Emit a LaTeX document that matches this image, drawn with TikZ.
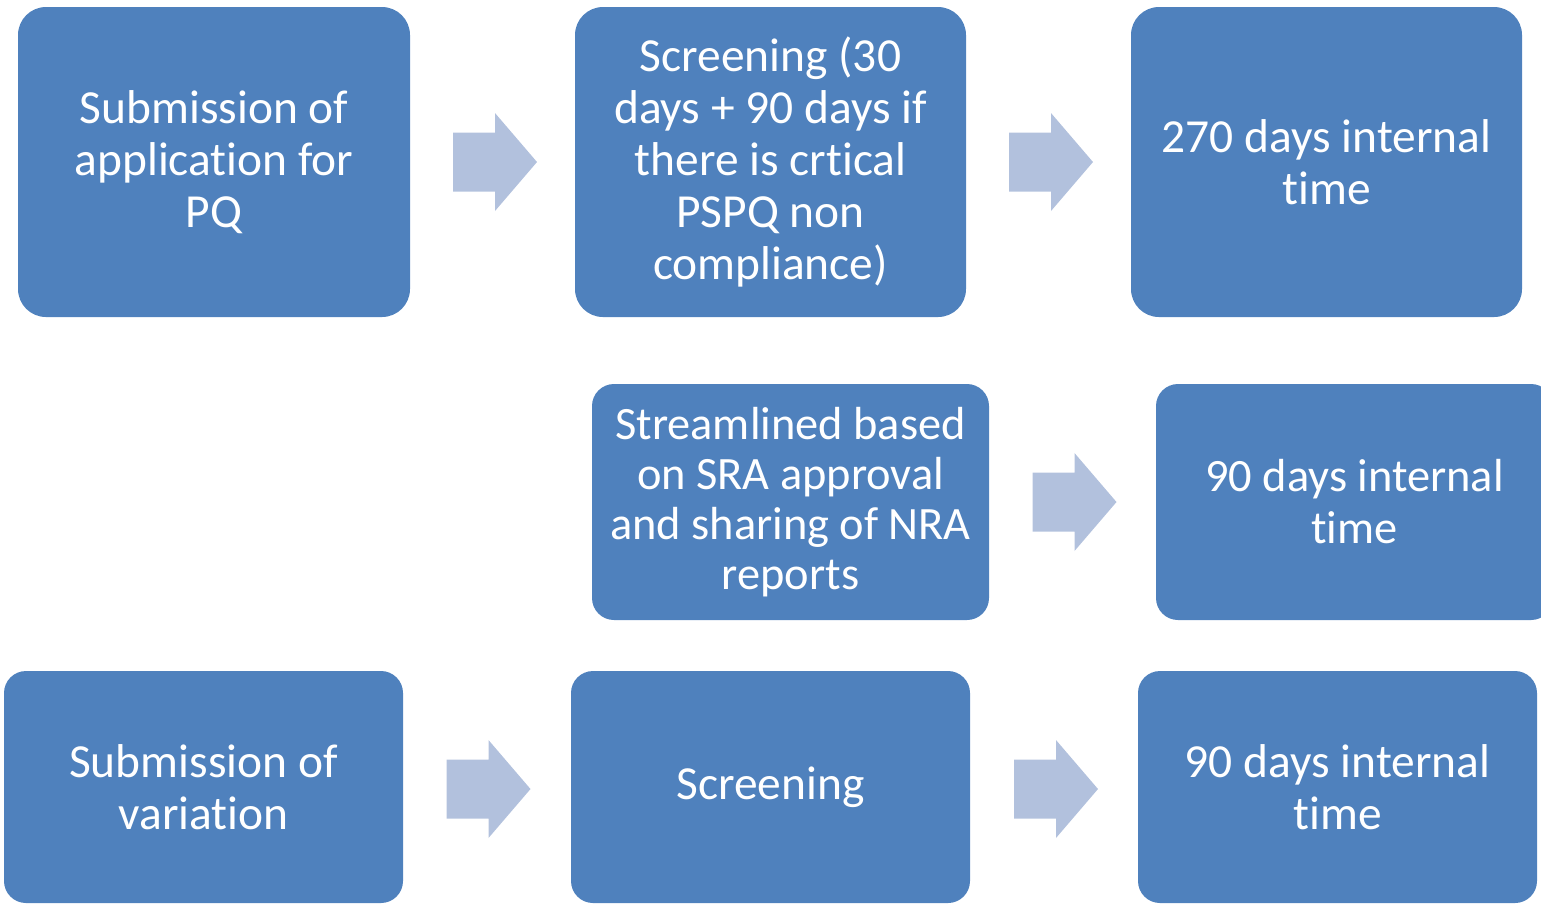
\documentclass[tikz,border=0pt]{standalone}
\usepackage{fontspec}
\setmainfont{Carlito}[Ligatures=NoCommon]
\usetikzlibrary{calc}
\definecolor{boxblue}{HTML}{4F81BD}
\definecolor{arrowblue}{HTML}{B2C1DD}
\tikzset{
  stage/.style={fill=boxblue, rounded corners=0.28cm, text=white, align=center,
    inner sep=0pt, font=\fontsize{13.5}{14.8}\selectfont},
  bigarrow/.pic={\fill[arrowblue] (-0.42,-0.295) -- (0,-0.295) -- (0,-0.49) -- (0.42,0)
    -- (0,0.49) -- (0,0.295) -- (-0.42,0.295) -- cycle;}
}
\begin{document}
\begin{tikzpicture}
\path[use as bounding box] (0,0) rectangle (15.41,-9.05);
\clip (0,0) rectangle (15.41,-9.05);

% first row
\node[stage, minimum width=3.92cm, minimum height=3.10cm] (sub) at (2.14,-1.62) {Submission of\\application for\\PQ};
\node[stage, minimum width=3.91cm, minimum height=3.10cm] (scr) at (7.705,-1.62) {Screening (30\\days + 90 days if\\there is crtical\\PSPQ non\\compliance)};
\node[stage, minimum width=3.91cm, minimum height=3.10cm] (int) at (13.265,-1.62) {270 days internal\\time};
\pic at ($(sub.east)!0.5!(scr.west)+(0.025,0)$) {bigarrow};
\pic at ($(scr.east)!0.5!(int.west)+(0.025,0)$) {bigarrow};

% second row
\node[stage, rounded corners=0.22cm, minimum width=3.97cm, minimum height=2.36cm,
  font=\fontsize{13.2}{14.3}\selectfont] (str) at (7.905,-5.02) {Streamlined based\\on SRA approval\\and sharing of NRA\\reports};
\node[stage, rounded corners=0.22cm, minimum width=3.97cm, minimum height=2.36cm,
  font=\fontsize{13.2}{14.8}\selectfont] (sint) at (13.545,-5.02) {90 days internal\\time};
\pic at ($(str.east)!0.5!(sint.west)+(0.02,0)$) {bigarrow};

% third row
\node[stage, rounded corners=0.22cm, minimum width=3.99cm, minimum height=2.32cm] (var) at (2.035,-7.87) {Submission of\\variation};
\node[stage, rounded corners=0.22cm, minimum width=3.99cm, minimum height=2.32cm] (vscr) at (7.705,-7.87) {Screening};
\node[stage, rounded corners=0.22cm, minimum width=3.99cm, minimum height=2.32cm] (vint) at (13.375,-7.87) {90 days internal\\time};
\pic at ($(var.east)!0.5!(vscr.west)+(0.015,-0.02)$) {bigarrow};
\pic at ($(vscr.east)!0.5!(vint.west)+(0.02,-0.02)$) {bigarrow};
\end{tikzpicture}
\end{document}
